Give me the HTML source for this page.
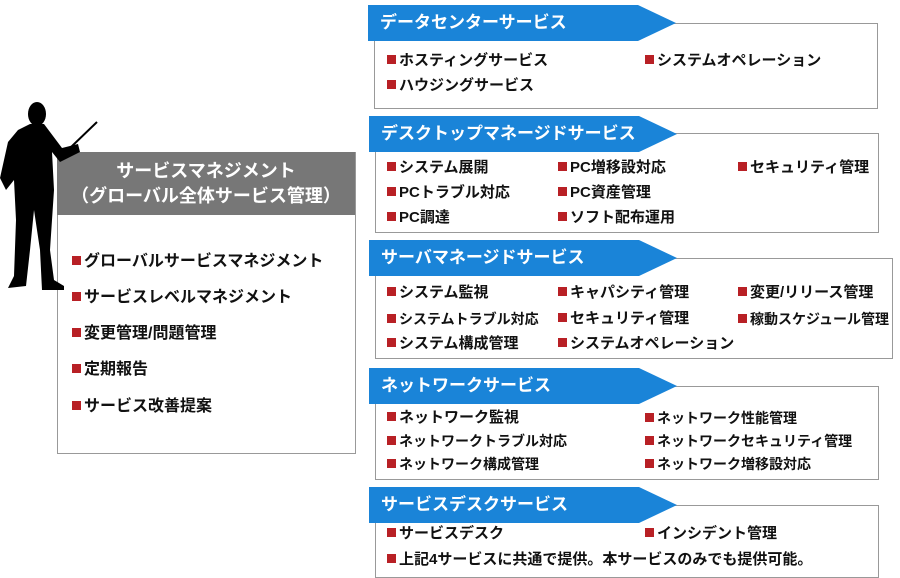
<!DOCTYPE html><html><head><meta charset="utf-8"><style>
body{margin:0;width:900px;height:578px;background:#fff;position:relative;overflow:hidden;font-family:"Liberation Sans","Noto Sans CJK JP",sans-serif;font-weight:bold;color:#111}
.a{position:absolute}
.box{position:absolute;border:1px solid #999;background:#fff}
.ban{position:absolute;height:36px;background:#1a84d8;color:#fff;font-size:17px;line-height:36px;padding-left:12px;box-sizing:border-box;clip-path:polygon(0 0,calc(100% - 38px) 0,100% 50%,calc(100% - 38px) 100%,0 100%)}
.t{position:absolute;font-size:15px;white-space:nowrap;line-height:18px}
.t:before{content:"";display:inline-block;width:9px;height:9px;background:#b82025;margin-right:3px;vertical-align:1px}
.L{font-size:16px}
</style></head><body>
<div class="box" style="left:57px;top:152px;width:297px;height:300px"></div>
<div class="a" style="left:57px;top:152px;width:298px;height:63px;background:#777;color:#fff;text-align:center;font-size:18px;line-height:25px;padding-top:7px;box-sizing:border-box">サービスマネジメント<br>（グローバル全体サービス管理）</div>
<svg class="a" style="left:0;top:100px" width="100" height="192" viewBox="0 0 100 192">
<line x1="70" y1="48" x2="97" y2="22" stroke="#000" stroke-width="2"/>
<ellipse cx="37" cy="14" rx="9" ry="12" fill="#000"/>
<path d="M30 24 L44 24 L50 32 L62 48 L78 44 L80 52 L60 62 L52 52 L54 90 L50 150 L54 180 L64 186 L64 190 L42 190 L40 150 L34 110 L30 150 L26 186 L8 188 L14 176 L16 120 L14 80 L6 90 L0 78 L8 42 L18 30 Z" fill="#000"/>
</svg>
<div class="t L" style="left:72px;top:253px">グローバルサービスマネジメント</div>
<div class="t L" style="left:72px;top:289px">サービスレベルマネジメント</div>
<div class="t L" style="left:72px;top:325px">変更管理/問題管理</div>
<div class="t L" style="left:72px;top:361px">定期報告</div>
<div class="t L" style="left:72px;top:398px">サービス改善提案</div>

<div class="box" style="left:374px;top:23px;width:502px;height:84px"></div>
<div class="ban" style="left:368px;top:5px;width:308px">データセンターサービス</div>
<div class="t" style="left:387px;top:52px">ホスティングサービス</div>
<div class="t" style="left:645px;top:52px">システムオペレーション</div>
<div class="t" style="left:387px;top:77px">ハウジングサービス</div>

<div class="box" style="left:375px;top:133px;width:502px;height:98px"></div>
<div class="ban" style="left:369px;top:116px;width:308px">デスクトップマネージドサービス</div>
<div class="t" style="left:387px;top:159px">システム展開</div>
<div class="t" style="left:558px;top:159px">PC増移設対応</div>
<div class="t" style="left:738px;top:159px">セキュリティ管理</div>
<div class="t" style="left:387px;top:184px">PCトラブル対応</div>
<div class="t" style="left:558px;top:184px">PC資産管理</div>
<div class="t" style="left:387px;top:209px">PC調達</div>
<div class="t" style="left:558px;top:209px">ソフト配布運用</div>

<div class="box" style="left:375px;top:258px;width:516px;height:99px"></div>
<div class="ban" style="left:369px;top:240px;width:308px">サーバマネージドサービス</div>
<div class="t" style="left:387px;top:284px">システム監視</div>
<div class="t" style="left:558px;top:284px">キャパシティ管理</div>
<div class="t" style="left:738px;top:284px">変更/リリース管理</div>
<div class="t" style="left:387px;top:310px;font-size:14px">システムトラブル対応</div>
<div class="t" style="left:558px;top:310px">セキュリティ管理</div>
<div class="t" style="left:738px;top:310px;font-size:14px">稼動スケジュール管理</div>
<div class="t" style="left:387px;top:335px">システム構成管理</div>
<div class="t" style="left:558px;top:335px">システムオペレーション</div>

<div class="box" style="left:375px;top:386px;width:502px;height:92px"></div>
<div class="ban" style="left:369px;top:368px;width:308px">ネットワークサービス</div>
<div class="t" style="left:387px;top:409px">ネットワーク監視</div>
<div class="t" style="left:645px;top:409px;font-size:14px">ネットワーク性能管理</div>
<div class="t" style="left:387px;top:432px;font-size:14px">ネットワークトラブル対応</div>
<div class="t" style="left:645px;top:432px;font-size:14px">ネットワークセキュリティ管理</div>
<div class="t" style="left:387px;top:455px;font-size:14px">ネットワーク構成管理</div>
<div class="t" style="left:645px;top:455px;font-size:14px">ネットワーク増移設対応</div>

<div class="box" style="left:375px;top:505px;width:502px;height:71px"></div>
<div class="ban" style="left:369px;top:487px;width:308px">サービスデスクサービス</div>
<div class="t" style="left:387px;top:525px">サービスデスク</div>
<div class="t" style="left:645px;top:525px">インシデント管理</div>
<div class="t" style="left:387px;top:551px">上記4サービスに共通で提供。本サービスのみでも提供可能。</div>
</body></html>
